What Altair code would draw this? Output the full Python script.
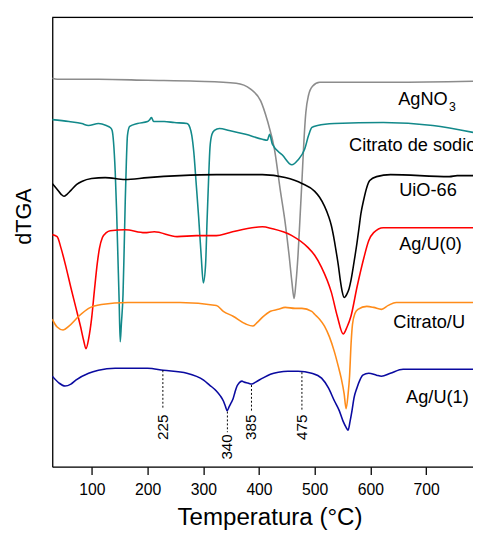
import altair as alt
import pandas as pd

# ---------------- data (temperature in °C, dTGA in arbitrary offset units) ----------------
x_ticks = [100, 200, 300, 400, 500, 600, 700]

agno3_T = [29, 38, 112, 200, 288, 359, 385, 403, 415, 428, 438, 447, 454, 459, 463, 466, 470, 473.5, 477, 480.5, 484, 489, 496, 509, 641, 784]
agno3_y = [395, 394, 394, 393, 392, 390, 384, 372, 352, 322, 282, 248, 215, 188, 171, 185, 215, 252, 290, 330, 360, 378, 387, 391, 391, 392]

citrato_T = [29, 59, 82, 94, 112, 126, 133, 136.5, 139, 142, 144.5, 147, 149, 151, 153, 156, 158, 160, 162, 164,
             168, 182, 200, 204, 207, 211, 230, 248, 271, 276, 279.4, 283, 287.4, 291.8, 296.2, 300.1, 304.1, 306.8, 309.4, 312.1,
             315.6, 320, 329, 346.5, 376, 406, 415, 419, 424, 442, 459, 470, 482, 489, 495, 505, 535, 623, 712, 784]
citrato_y = [353, 351, 349, 347, 349, 347, 345, 342, 330, 300, 260, 210, 170, 127, 145, 175, 220, 270, 310, 337,
             346, 349, 351, 353, 355, 351, 351, 350, 349, 345, 337, 320, 287, 253, 215, 187, 205, 250, 290, 325,
             338, 342, 344, 342, 338, 333, 332, 338, 328, 317, 307, 312, 323, 337, 345, 347, 349, 350, 347, 340]

uio_T = [29, 38, 45, 50, 55.5, 62.5, 73, 82, 99.5, 124, 159.5, 200, 258, 323.5, 406, 447, 477, 500, 508.7, 517.5,
         524.6, 529.9, 535.2, 538.7, 542.3, 545.8, 549.3, 552.8, 558.1, 561.6, 565.2, 570.5, 575.7, 579.3, 582.8, 588.1,
         593.4, 598.7, 611, 636, 741.5, 755.6, 784]
uio_y = [288, 282, 277, 275, 277, 281, 287, 290, 293, 294, 292, 294, 296, 297, 297, 294, 288, 280, 274, 265,
         255, 245, 230, 218, 205, 190, 178, 172, 176, 181, 190, 208, 227, 242, 257, 272,
         284, 291, 295, 297, 295, 296, 296]

ag0_T = [29, 37.8, 44.9, 53.7, 62.5, 71.3, 80, 85.5, 89.5, 94.3, 99.5, 104.8, 110.1, 113.7, 119, 126, 133.1, 159.5, 195, 212,
         253, 288, 323.5, 346.5, 406, 424, 459, 487.6, 499.9, 512, 530, 540.5, 551, 558, 565, 576, 588, 597, 605.7, 623, 664, 784]
ag0_y = [236, 234, 222, 203, 182, 162, 142, 128, 120, 130, 150, 180, 208, 222, 233, 238, 240, 241, 238, 239,
         234, 235, 235, 238, 244, 242, 235, 223, 215, 203, 177, 153, 135, 142, 153, 183, 212, 230, 238, 243, 243, 243]

cu_T = [29, 37.8, 48.4, 59, 76.6, 94.3, 117.2, 164.8, 258.3, 323.5, 336, 353.5, 376.4, 388.8, 397.5, 406.4, 420.5, 434.7, 447, 464.6,
        477, 494.6, 499.9, 508.7, 517.5, 526.4, 535.2, 542.3, 547.5, 552.8, 556.3, 559.9, 562.5, 565.2, 567.8, 572.3, 577.5,
        593.4, 605.7, 619.8, 632, 646.3, 693.9, 784]
cu_y = [150, 142, 139, 143, 153, 161, 165, 167, 167, 164, 158, 153, 145, 143, 147, 152, 158, 160, 162, 161,
        161, 158, 155, 150, 143, 132, 117, 102, 90, 74, 59, 74, 92, 125, 145, 156, 160,
        163, 162, 160, 164, 167, 167, 167]

ag1_T = [29, 41.3, 51.9, 62.5, 71.3, 94.3, 111.9, 141.9, 200.1, 228.3, 270.6, 300.6, 311.2, 323.5, 330.6, 335.9, 339.4, 342.9,
         346.5, 350, 353.5, 357, 360.6, 364.1, 369.4, 372.9, 380, 387, 394, 406.4, 420.5, 434.7, 452, 470, 494.6, 512.3,
         524.6, 535.2, 544, 551, 556.3, 559.9, 563.4, 566.9, 570.5, 575.7, 581, 586.3, 597, 611, 619.8, 635.7, 658.6, 784]
ag1_y = [92, 85, 82, 84, 88, 95, 98, 100, 100, 98, 95, 88, 83, 77, 72, 67, 62, 57,
         61, 65, 69, 76, 82, 85, 87, 86, 85, 84, 86, 90, 94, 96, 97, 97, 95, 90,
         80, 67, 57, 46, 40, 37, 46, 57, 70, 80, 88, 93, 95, 93, 92, 95, 99, 99]

series_names = ["AgNO3", "Citrato de sodio", "UiO-66", "Ag/U(0)", "Citrato/U", "Ag/U(1)"]
series_colors = ["#8c8c8c", "#12898a", "#000000", "#ff0000", "#ff8c1a", "#0a0aa0"]

# curve labels
lab_text = ["AgNO", "Citrato de sodio", "UiO-66", "Ag/U(0)", "Citrato/U", "Ag/U(1)"]
lab_T = [649.8, 561.6, 651.6, 651.6, 641, 664]
lab_y = [374, 327, 281.5, 226, 147, 70.5]
sub_text = ["3"]
sub_T = [741]
sub_y = [366]

# peak annotations
ann_label = ["225", "340", "385", "475"]
ann_T = [227.5, 343.3, 386.5, 477]
ann_top = [98, 56, 83, 96]
ann_bot = [58, 35, 57, 58]
ann_text_y = [53, 33, 53, 53]

# ---------------- build tables ----------------
rows = []
for n, ts, vs in zip(series_names,
                     [agno3_T, citrato_T, uio_T, ag0_T, cu_T, ag1_T],
                     [agno3_y, citrato_y, uio_y, ag0_y, cu_y, ag1_y]):
    for i, (t, v) in enumerate(zip(ts, vs)):
        rows.append({"serie": n, "T": t, "v": v, "i": i})
df = pd.DataFrame(rows)

lab_df = pd.DataFrame({"T": lab_T, "v": lab_y, "txt": lab_text})
sub_df = pd.DataFrame({"T": sub_T, "v": sub_y, "txt": sub_text})
ann_df = pd.DataFrame({"T": ann_T, "v": ann_top, "v2": ann_bot, "tv": ann_text_y, "txt": ann_label})

W, H = 428, 457
FONT = "Liberation Sans"

xscale = alt.Scale(domain=[29, 784], nice=False, zero=False)
yscale = alt.Scale(domain=[0, 457], nice=False, zero=False)

x_axis = alt.Axis(values=x_ticks, title="Temperatura (°C)", grid=False,
                  domainColor="black", domainWidth=1.3, tickColor="black", tickWidth=1.3, tickSize=8,
                  labelFont=FONT, labelFontSize=16, labelColor="black", labelPadding=7,
                  labelFlush=False, labelOverlap=False,
                  titleFont=FONT, titleFontSize=24.5, titleFontWeight="normal", titleColor="black",
                  titleX=221, titleY=59, titleBaseline="alphabetic", titleAlign="center")
y_axis = alt.Axis(title="dTGA", grid=False, ticks=False, labels=False,
                  domainColor="black", domainWidth=1.3,
                  titleFont=FONT, titleFontSize=22, titleFontWeight="normal", titleColor="black",
                  titleAngle=270, titleX=-29, titleY=202, titleBaseline="middle", titleAlign="center")

X = alt.X("T:Q", scale=xscale, axis=x_axis)
Y = alt.Y("v:Q", scale=yscale, axis=y_axis)

lines = alt.Chart(df).mark_line(strokeWidth=1.6, interpolate="monotone", clip=True).encode(
    x=X, y=Y,
    color=alt.Color("serie:N", scale=alt.Scale(domain=series_names, range=series_colors), legend=None),
    order=alt.Order("i:Q"),
)

top_border = alt.Chart(pd.DataFrame({"k": [0]})).mark_rule(color="black", strokeWidth=1.3).encode(
    x=alt.value(0), x2=alt.value(W), y=alt.value(0)
)

dashes = alt.Chart(ann_df).mark_rule(color="black", strokeWidth=1, strokeDash=[2, 2]).encode(
    x=X, y=Y, y2="v2:Q"
)

ann_text = alt.Chart(ann_df).mark_text(angle=270, align="right", baseline="middle",
                                       font=FONT, fontSize=15.5, color="black").encode(
    x=X, y=alt.Y("tv:Q", scale=yscale, axis=y_axis), text="txt:N"
)

labels = alt.Chart(lab_df).mark_text(align="left", baseline="middle", font=FONT,
                                     fontSize=18.5, color="black").encode(
    x=X, y=Y, text="txt:N"
)

sub = alt.Chart(sub_df).mark_text(align="left", baseline="middle", font=FONT,
                                  fontSize=12.5, color="black").encode(
    x=X, y=Y, text="txt:N"
)

chart = alt.layer(lines, top_border, dashes, ann_text, labels, sub).properties(
    width=W, height=H,
    padding={"left": 45, "top": 5, "right": 0, "bottom": 64},
    autosize=alt.AutoSizeParams(type="none"),
).configure_view(stroke="transparent").configure(background="white")

chart.save("out.html", embed_options={"renderer": "svg", "actions": False})
